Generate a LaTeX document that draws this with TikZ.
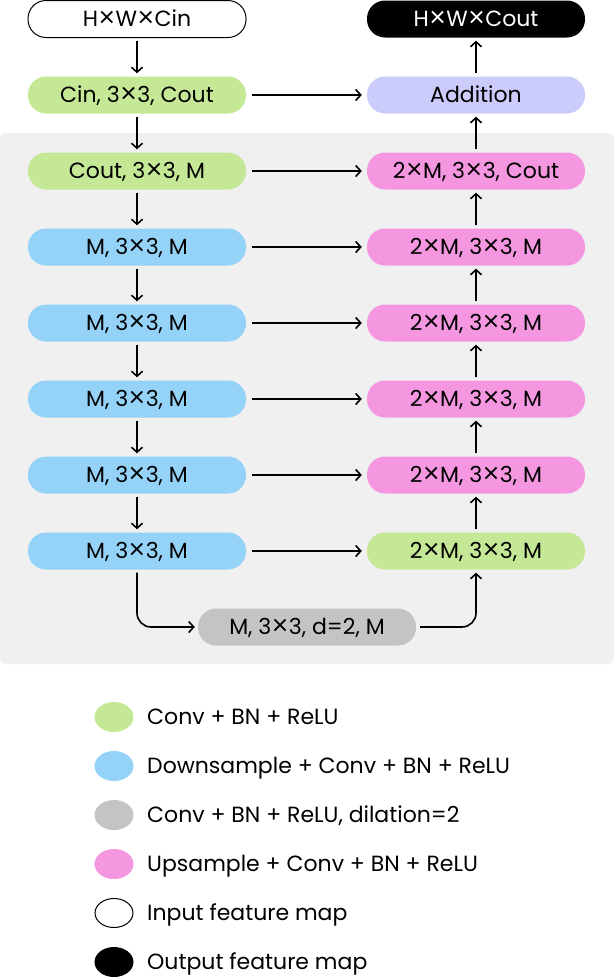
\documentclass[tikz,border=0pt]{standalone}
\usepackage{fontspec}
\setmainfont{Poppins}
\newfontfamily\thinx{Poppins Light}
\usetikzlibrary{arrows.meta,shapes.geometric}
\definecolor{cgreen}{HTML}{C5E897}
\definecolor{cblue}{HTML}{94D2F8}
\definecolor{cgray}{HTML}{C4C4C4}
\definecolor{cpink}{HTML}{F497E0}
\definecolor{clav}{HTML}{CBCBFC}
\definecolor{cbg}{HTML}{F0F0F0}
\newcommand{\tm}{\raisebox{-0.09em}{\scalebox{1.35}{\thinx\texttimes}}}
\begin{document}
\begin{tikzpicture}[x=1pt,y=-1pt,
  every node/.style={font=\fontsize{22}{24}\selectfont},
  blk/.style={rounded corners=18pt,minimum width=218pt,minimum height=37pt,inner sep=0pt,text=black,text depth=0pt,text height=15pt},
  gblk/.style={blk,fill=cgreen},
  bblk/.style={blk,fill=cblue},
  pblk/.style={blk,fill=cpink},
  arr/.style={line width=1.6pt,-{Straight Barb[length=5pt,width=11pt,line width=1.6pt]}},
  leg/.style={ellipse,minimum width=39pt,minimum height=30pt,inner sep=0pt},
  legt/.style={anchor=base west,inner sep=0pt}
]
\useasboundingbox (0,0) rectangle (614,978);
\fill[cbg,rounded corners=6pt] (0,133) rectangle (614,664);
% left column
\node[blk,draw=black,line width=1pt,fill=white] (in) at (137,19) {H\tm W\tm Cin};
\node[gblk] (l1) at (137,95) {Cin, 3\tm3, Cout};
\node[gblk] (l2) at (137,171) {Cout, 3\tm3, M};
\node[bblk] (l3) at (137,247) {M, 3\tm3, M};
\node[bblk] (l4) at (137,323) {M, 3\tm3, M};
\node[bblk] (l5) at (137,399) {M, 3\tm3, M};
\node[bblk] (l6) at (137,475) {M, 3\tm3, M};
\node[bblk] (l7) at (137,551) {M, 3\tm3, M};
% right column
\node[blk,fill=black,text=white] (out) at (476,19) {H\tm W\tm Cout};
\node[blk,fill=clav] (r1) at (476,95) {Addition};
\node[pblk] (r2) at (476,171) {2\tm M, 3\tm3, Cout};
\node[pblk] (r3) at (476,247) {2\tm M, 3\tm3, M};
\node[pblk] (r4) at (476,323) {2\tm M, 3\tm3, M};
\node[pblk] (r5) at (476,399) {2\tm M, 3\tm3, M};
\node[pblk] (r6) at (476,475) {2\tm M, 3\tm3, M};
\node[gblk] (r7) at (476,551) {2\tm M, 3\tm3, M};
\node[blk,fill=cgray] (d) at (307,627) {M, 3\tm3, d=2, M};
% vertical arrows
\foreach \a/\b in {in/l1,l1/l2,l2/l3,l3/l4,l4/l5,l5/l6,l6/l7}
  \draw[arr,shorten <=3pt,shorten >=3pt] (\a.south) -- (\b.north);
\foreach \a/\b in {r7/r6,r6/r5,r5/r4,r4/r3,r3/r2,r2/r1,r1/out}
  \draw[arr,shorten <=3pt,shorten >=3pt] (\a.north) -- (\b.south);
% horizontal arrows
\foreach \a/\b in {l1/r1,l2/r2,l3/r3,l4/r4,l5/r5,l6/r6,l7/r7}
  \draw[arr,shorten <=6pt,shorten >=5pt] (\a.east) -- (\b.west);
% dilated path
\draw[arr,rounded corners=14pt,shorten <=3pt,shorten >=3pt] (l7.south) |- (d.west);
\draw[arr,rounded corners=14pt,shorten <=4pt,shorten >=3pt] (d.east) -| (r7.south);
% legend
\node[leg,fill=cgreen] (k1) at (114,717) {};
\node[leg,fill=cblue] (k2) at (114,766) {};
\node[leg,fill=cgray] (k3) at (114,815) {};
\node[leg,fill=cpink] (k4) at (114,864) {};
\node[leg,draw=black,line width=1pt,fill=white,minimum width=38pt,minimum height=29pt] (k5) at (114,913) {};
\node[leg,fill=black] (k6) at (114,962) {};
\node[legt] (t1) at (147,724.5) {Conv + BN + ReLU};
\node[legt] (t2) at (147,773.5) {Downsample + Conv + BN + ReLU};
\node[legt] (t3) at (147,822.5) {Conv + BN + ReLU, dilation=2};
\node[legt] (t4) at (147,871.5) {Upsample + Conv + BN + ReLU};
\node[legt] (t5) at (147,920.5) {Input feature map};
\node[legt] (t6) at (147,969.5) {Output feature map};
\end{tikzpicture}
\end{document}
